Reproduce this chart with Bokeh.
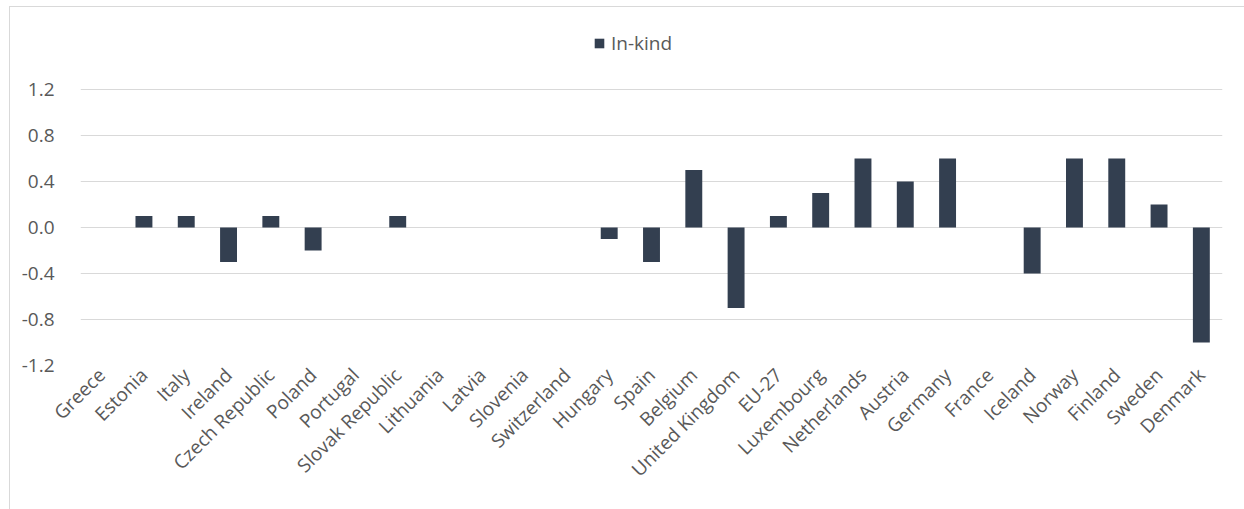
import math
from bokeh.plotting import figure
from bokeh.models import ColumnDataSource, FactorRange, Range1d, FixedTicker, NumeralTickFormatter, Legend, LegendItem
from bokeh.embed import file_html
from bokeh.resources import INLINE

countries = ["Greece", "Estonia", "Italy", "Ireland", "Czech Republic", "Poland", "Portugal",
             "Slovak Republic", "Lithuania", "Latvia", "Slovenia", "Switzerland", "Hungary",
             "Spain", "Belgium", "United Kingdom", "EU-27", "Luxembourg", "Netherlands",
             "Austria", "Germany", "France", "Iceland", "Norway", "Finland", "Sweden", "Denmark"]
in_kind = [0.0, 0.1, 0.1, -0.3, 0.1, -0.2, 0.0,
           0.1, 0.0, 0.0, 0.0, 0.0, -0.1,
           -0.3, 0.5, -0.7, 0.1, 0.3, 0.6,
           0.4, 0.6, 0.0, -0.4, 0.6, 0.6, 0.2, -1.0]
y_ticks = [-1.2, -0.8, -0.4, 0.0, 0.4, 0.8, 1.2]

FONT = "Open Sans"
TEXT = "#595959"
GRID = "#d9d9d9"
BAR = "#333f50"

WIDTH, HEIGHT = 1235, 503
BORDER_BOTTOM = 145
FRAME_H = HEIGHT - BORDER_BOTTOM
PX_PER_UNIT = 115.0   # vertical scale of the value axis
y_min = y_ticks[0]
y_max = y_min + FRAME_H / PX_PER_UNIT   # headroom above the top tick holds the legend

source = ColumnDataSource(data=dict(country=countries, value=in_kind))

p = figure(
    width=WIDTH, height=HEIGHT,
    x_range=FactorRange(factors=countries, range_padding=0),
    y_range=Range1d(y_min, y_max),
    output_backend="svg", toolbar_location=None,
    min_border_left=70, min_border_right=23, min_border_top=0, min_border_bottom=BORDER_BOTTOM,
    margin=(6, 0, 0, 9),
    styles={"border-left": "1px solid #d9d9d9", "border-top": "1px solid #d9d9d9"},
)
p.outline_line_color = None
p.background_fill_color = "white"
p.border_fill_color = "white"

bars = p.vbar(x="country", top="value", bottom=0, width=0.4, source=source,
              fill_color=BAR, line_color=None)

# value axis
p.yaxis.ticker = FixedTicker(ticks=y_ticks)
p.yaxis.formatter = NumeralTickFormatter(format="0.0")
p.yaxis.axis_line_color = None
p.yaxis.major_tick_line_color = None
p.yaxis.minor_tick_line_color = None
p.yaxis.major_label_standoff = 20
p.yaxis.major_label_text_font = FONT
p.yaxis.major_label_text_font_size = "19px"
p.yaxis.major_label_text_color = TEXT

# category axis
p.xaxis.axis_line_color = None
p.xaxis.major_tick_line_color = None
p.xaxis.major_label_orientation = math.pi / 4
p.xaxis.major_label_standoff = 0
p.xaxis.major_label_text_font = FONT
p.xaxis.major_label_text_font_size = "19px"
p.xaxis.major_label_text_color = TEXT

p.xgrid.grid_line_color = None
p.ygrid.grid_line_color = GRID
p.ygrid.grid_line_width = 1

legend = Legend(items=[LegendItem(label="In-kind", renderers=[bars])],
                location=(513, 309), orientation="horizontal",
                glyph_width=12, glyph_height=12, label_standoff=6,
                padding=0, margin=0, spacing=0, label_height=24,
                label_text_font=FONT, label_text_font_size="19px", label_text_color=TEXT,
                border_line_color=None, background_fill_alpha=0)
p.add_layout(legend, "center")

open("out.html", "w").write(file_html(p, INLINE))
